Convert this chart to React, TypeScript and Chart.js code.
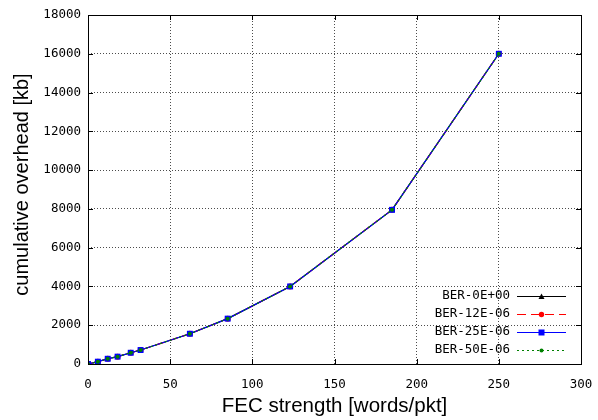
import React, { useEffect, useRef } from "react";
import { Chart, registerables } from "chart.js";

Chart.register(...registerables);

const fecStrength = [0, 6, 12, 18, 26, 32, 62, 85, 123, 185, 250];
const ber0 = [0, 120, 270, 380, 580, 720, 1560, 2340, 4000, 7950, 16000];
const ber12 = [0, 120, 270, 380, 580, 720, 1560, 2340, 4000, 7950, 16000];
const ber25 = [0, 120, 270, 380, 580, 720, 1560, 2340, 4000, 7950, 16000];
const ber50 = [0, 120, 270, 380, 580, 720, 1560, 2340, 4000, 7950, 16000];
const seriesLabels = ["BER-0E+00", "BER-12E-06", "BER-25E-06", "BER-50E-06"];
const xTitle = "FEC strength [words/pkt]";
const yTitle = "cumulative overhead [kb]";

const MONO = "'DejaVu Sans Mono', monospace";
const SANS = "'Liberation Sans', Arial, sans-serif";

const styles = [
  { color: "#000000", dash: [] as number[], point: "triangle", radius: 3, legendR: 3 },
  { color: "#ff0000", dash: [9, 5], point: "circle", radius: 3, legendR: 2.7 },
  { color: "#0000ff", dash: [] as number[], point: "rect", radius: 4.2, legendR: 3 },
  { color: "#008000", dash: [2, 3], point: "circle", radius: 2, legendR: 2 },
];

function drawMarker(ctx: CanvasRenderingContext2D, kind: string, x: number, y: number, r: number, color: string) {
  ctx.save();
  ctx.fillStyle = color;
  ctx.beginPath();
  if (kind === "triangle") {
    ctx.moveTo(x, y - r);
    ctx.lineTo(x + r, y + r * 0.8);
    ctx.lineTo(x - r, y + r * 0.8);
    ctx.closePath();
  } else if (kind === "rect") {
    ctx.rect(x - r, y - r, 2 * r, 2 * r);
  } else {
    ctx.arc(x, y, r, 0, Math.PI * 2);
  }
  ctx.fill();
  ctx.restore();
}

const framePlugin = {
  id: "gnuFrame",
  afterDatasetsDraw(chart: any) {
    const { ctx, chartArea } = chart;
    const { left, right, top, bottom } = chartArea;
    const xs = chart.scales.x;
    const ys = chart.scales.y;
    ctx.save();
    ctx.strokeStyle = "#000";
    ctx.lineWidth = 1;
    ctx.setLineDash([]);
    ctx.strokeRect(Math.round(left) + 0.5, Math.round(top) + 0.5, Math.round(right - left), Math.round(bottom - top));
    const tl = 5;
    ctx.beginPath();
    ys.ticks.forEach((t: any) => {
      const y = Math.round(ys.getPixelForValue(t.value)) + 0.5;
      ctx.moveTo(left, y);
      ctx.lineTo(left + tl, y);
      ctx.moveTo(right, y);
      ctx.lineTo(right - tl, y);
    });
    xs.ticks.forEach((t: any) => {
      const x = Math.round(xs.getPixelForValue(t.value)) + 0.5;
      ctx.moveTo(x, bottom);
      ctx.lineTo(x, bottom - tl);
      ctx.moveTo(x, top);
      ctx.lineTo(x, top + tl);
    });
    ctx.stroke();

    // y axis title
    ctx.save();
    ctx.translate(22, (top + bottom) / 2 - 5);
    ctx.rotate(-Math.PI / 2);
    ctx.font = "20px " + SANS;
    ctx.fillStyle = "#000";
    ctx.textAlign = "center";
    ctx.textBaseline = "middle";
    ctx.fillText(yTitle, 0, 0);
    ctx.restore();

    // legend
    ctx.font = "12.5px " + MONO;
    ctx.textAlign = "right";
    ctx.textBaseline = "middle";
    const textRight = right - 71;
    const lineStart = right - 64;
    const lineEnd = right - 15;
    const rowY0 = bottom - 68;
    seriesLabels.forEach((label, i) => {
      const y = rowY0 + i * 18;
      const s = styles[i];
      ctx.fillStyle = "#000";
      ctx.fillText(label, textRight, y);
      ctx.strokeStyle = s.color;
      ctx.lineWidth = 1;
      ctx.setLineDash(s.dash);
      ctx.beginPath();
      ctx.moveTo(lineStart, Math.round(y) + 0.5);
      ctx.lineTo(lineEnd, Math.round(y) + 0.5);
      ctx.stroke();
      ctx.setLineDash([]);
      drawMarker(ctx, s.point, (lineStart + lineEnd) / 2, Math.round(y) + 0.5, s.legendR, s.color);
    });
    ctx.restore();
  },
};

export default function App() {
  const canvasRef = useRef<HTMLCanvasElement | null>(null);
  useEffect(() => {
    document.body.style.margin = "0";
    const canvas = canvasRef.current;
    if (!canvas) return;
    const allData = [ber0, ber12, ber25, ber50];
    const chart = new Chart(canvas, {
      type: "line",
      data: {
        datasets: allData.map((vals, i) => ({
          label: seriesLabels[i],
          data: fecStrength.map((x, j) => ({ x, y: vals[j] })),
          borderColor: styles[i].color,
          backgroundColor: styles[i].color,
          borderDash: styles[i].dash,
          borderWidth: 1.2,
          pointStyle: styles[i].point as any,
          pointRadius: styles[i].radius,
          pointBorderWidth: 0,
          pointBorderColor: styles[i].color,
          pointBackgroundColor: styles[i].color,
          tension: 0,
          fill: false,
          order: 4 - i,
        })),
      },
      options: {
        animation: false,
        responsive: false,
        maintainAspectRatio: false,
        layout: { padding: { top: 15, right: 17, left: 0, bottom: 0 } },
        plugins: { legend: { display: false }, tooltip: { enabled: false } },
        scales: {
          x: {
            type: "linear",
            min: 0,
            max: 300,
            ticks: { stepSize: 50, color: "#000", font: { family: MONO, size: 12.5 }, padding: 13, maxRotation: 0, callback: (v: any) => String(v) },
            grid: { color: "rgba(0,0,0,0.7)", lineWidth: 1, drawTicks: false } as any,
            border: { display: false, dash: [1, 2] },
            title: { display: true, text: xTitle, color: "#000", font: { family: SANS, size: 20.5 }, padding: { top: 0, bottom: 1 } },
            afterFit: (s: any) => { s.height = 56; s.paddingLeft = 0; s.paddingRight = 0; },
          },
          y: {
            type: "linear",
            min: 0,
            max: 18000,
            ticks: { stepSize: 2000, color: "#000", font: { family: MONO, size: 12.5 }, padding: 7, callback: (v: any) => String(v) },
            grid: { color: "rgba(0,0,0,0.7)", lineWidth: 1, drawTicks: false } as any,
            border: { display: false, dash: [1, 2] },
            title: { display: false },
            afterFit: (s: any) => { s.width = 88; s.paddingTop = 0; s.paddingBottom = 0; },
          },
        },
      },
      plugins: [framePlugin],
    });
    return () => chart.destroy();
  }, []);
  return (
    <div style={{ position: "absolute", left: 0, top: 0, width: 598, height: 420 }}>
      <canvas ref={canvasRef} width={598} height={420} style={{ width: 598, height: 420 }} />
    </div>
  );
}
